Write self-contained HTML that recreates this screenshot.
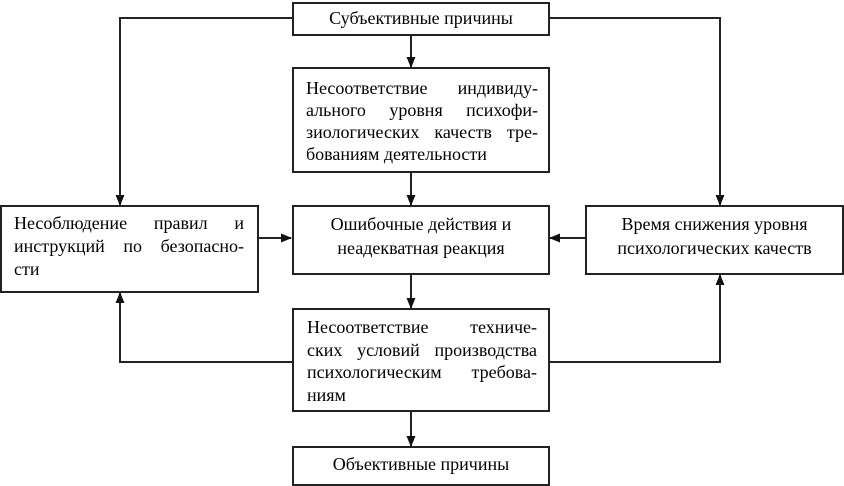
<!DOCTYPE html>
<html><head><meta charset="utf-8"><style>
body{margin:0;width:844px;height:481px;background:#fff;position:relative;overflow:hidden;font-family:"Liberation Serif",serif;font-size:18px;color:#000}
.b{position:absolute;border:2px solid #222;box-sizing:border-box;background:#fff}
.l{position:absolute;white-space:nowrap}
.j{display:flex;justify-content:space-between;white-space:nowrap}
svg{position:absolute;left:0;top:0}
</style></head><body>
<svg width="844" height="481">
<defs><marker id="a" markerWidth="11" markerHeight="11" refX="10" refY="5.5" orient="auto" markerUnits="userSpaceOnUse"><path d="M0,1 L11,5.5 L0,10 Z" fill="#111"/></marker></defs>
<g stroke="#222" stroke-width="2" fill="none">
<line x1="411" y1="35" x2="411" y2="67" marker-end="url(#a)"/>
<polyline points="292,18 120,18 120,205" marker-end="url(#a)"/>
<polyline points="549,18 720,18 720,205" marker-end="url(#a)"/>
<line x1="411" y1="172" x2="411" y2="205" marker-end="url(#a)"/>
<line x1="258" y1="238" x2="291" y2="238" marker-end="url(#a)"/>
<line x1="585" y1="238" x2="550" y2="238" marker-end="url(#a)"/>
<line x1="411" y1="274" x2="411" y2="308" marker-end="url(#a)"/>
<polyline points="292,362 120,362 120,293" marker-end="url(#a)"/>
<polyline points="549,362 720,362 720,275" marker-end="url(#a)"/>
<line x1="411" y1="411" x2="411" y2="446" marker-end="url(#a)"/>
</g></svg>

<div class="b" style="left:292px;top:2px;width:258px;height:34px"></div>
<div class="l" style="left:292px;width:258px;top:8px;text-align:center">Субъективные причины</div>

<div class="b" style="left:292px;top:67px;width:258px;height:106px"></div>
<div class="l" style="left:306px;width:232px;top:77px;line-height:22px">
<div class="j"><span>Несоответствие</span><span>индивиду-</span></div>
<div class="j"><span>ального</span><span>уровня</span><span>психофи-</span></div>
<div class="j"><span>зиологических</span><span>качеств</span><span>тре-</span></div>
<div>бованиям деятельности</div></div>

<div class="b" style="left:0;top:205px;width:259px;height:88px"></div>
<div class="l" style="left:14px;width:230px;top:212px;line-height:23px">
<div class="j"><span>Несоблюдение</span><span>правил</span><span>и</span></div>
<div class="j"><span>инструкций</span><span>по</span><span>безопасно-</span></div>
<div>сти</div></div>

<div class="b" style="left:292px;top:205px;width:258px;height:70px"></div>
<div class="l" style="left:292px;width:258px;top:212px;line-height:24px;text-align:center">Ошибочные действия и<br>неадекватная реакция</div>

<div class="b" style="left:585px;top:205px;width:259px;height:70px"></div>
<div class="l" style="left:585px;width:259px;top:212px;line-height:24px;text-align:center">Время снижения уровня<br>психологических качеств</div>

<div class="b" style="left:292px;top:308px;width:258px;height:104px"></div>
<div class="l" style="left:307px;width:230px;top:316px;line-height:22.5px">
<div class="j"><span>Несоответствие</span><span>техниче-</span></div>
<div class="j"><span>ских</span><span>условий</span><span>производства</span></div>
<div class="j"><span>психологическим</span><span>требова-</span></div>
<div>ниям</div></div>

<div class="b" style="left:292px;top:446px;width:258px;height:40px"></div>
<div class="l" style="left:292px;width:258px;top:454px;text-align:center">Объективные причины</div>
</body></html>
